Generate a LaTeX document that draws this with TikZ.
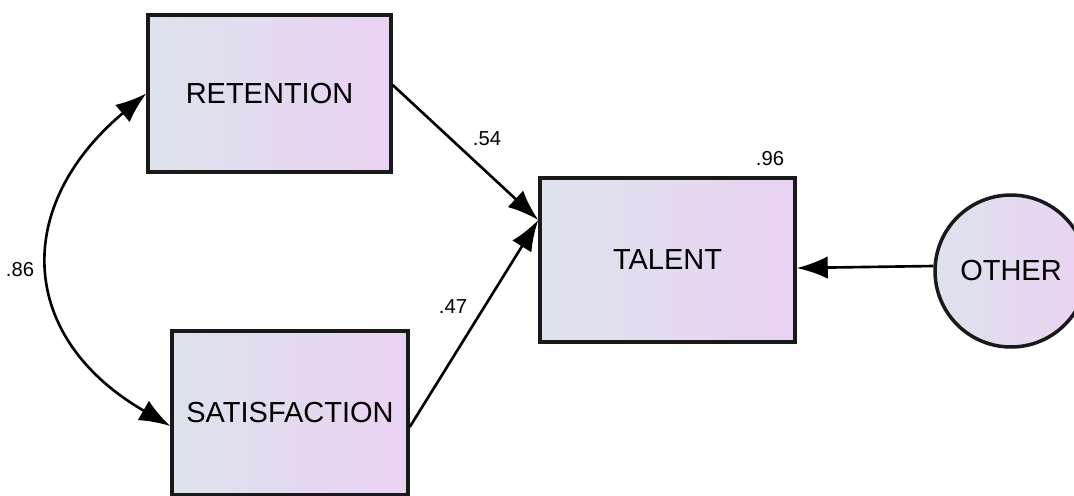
\documentclass[tikz,border=0pt]{standalone}
\usepackage{fontspec}
\setmainfont{Liberation Sans}
\usetikzlibrary{arrows.meta}
\definecolor{boxleft}{HTML}{DDE3EC}
\definecolor{boxright}{HTML}{EAD2F2}
\begin{document}
\begin{tikzpicture}[x=0.02cm, y=-0.02cm,
  var/.style={draw=black!90, line width=2pt, left color=boxleft, right color=boxright, font=\fontsize{16.5}{18}\selectfont},
  err/.style={var, circle, minimum size=3.04cm, inner sep=0pt},
  path/.style={line width=1.5pt, -{Latex[length=0.62cm,width=0.45cm]}},
  coef/.style={font=\fontsize{11.5}{13}\selectfont}]
\clip (0,0) rectangle (1074,495);
\useasboundingbox (0,0) rectangle (1074,495);
\node (ret) [var, minimum width=4.86cm, minimum height=3.14cm] at (269.5,93.5) {RETENTION};
\node (sat) [var, minimum width=4.72cm, minimum height=3.28cm] at (290,413) {SATISFACTION};
\node (tal) [var, minimum width=5.1cm, minimum height=3.28cm] at (667.5,260) {TALENT};
\node (oth) [err] at (1011,271) {OTHER};
\draw[path] ([yshift=0.17cm]ret.east) -- ([yshift=0.8cm]tal.west);
\draw[path] ([yshift=-0.28cm]sat.east) -- ([yshift=0.8cm]tal.west);
\draw[path] ([yshift=0.1cm]oth.west) -- ([yshift=-0.16cm]tal.east);
\draw[line width=1.5pt, {Latex[length=0.62cm,width=0.45cm]}-{Latex[length=0.62cm,width=0.45cm]}] (ret.west) to[out=220, in=150, looseness=1.35] ([yshift=-0.26cm]sat.west);
\node (c54) [coef] at (487,139) {.54};
\node (c47) [coef] at (453,307) {.47};
\node (c96) [coef] at (770,159) {.96};
\node (c86) [coef] at (20,270) {.86};
\end{tikzpicture}
\end{document}
